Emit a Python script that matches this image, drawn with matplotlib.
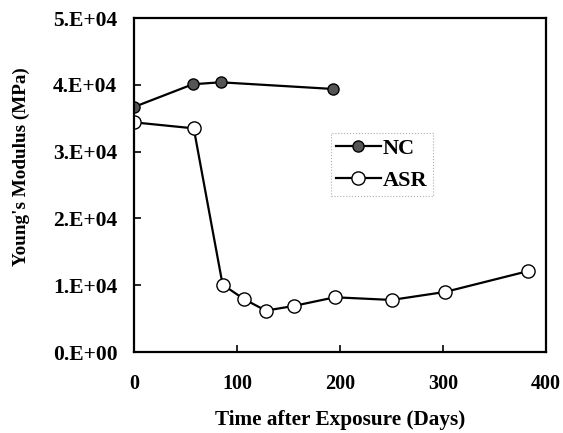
import matplotlib
matplotlib.use("Agg")
import matplotlib.pyplot as plt

# data
nc_days = [0, 57, 84, 193]
nc_modulus = [36700, 40100, 40400, 39400]

asr_days = [0, 58, 86, 107, 128, 155, 195, 250, 302, 382]
asr_modulus = [34400, 33500, 10100, 7900, 6200, 6900, 8200, 7800, 9000, 12100]

y_ticks = [0, 10000, 20000, 30000, 40000, 50000]
y_tick_labels = ["0.E+00", "1.E+04", "2.E+04", "3.E+04", "4.E+04", "5.E+04"]
x_ticks = [0, 100, 200, 300, 400]

plt.rcParams['font.family'] = ['Liberation Serif', 'DejaVu Serif']
plt.rcParams['font.weight'] = 'bold'

fig = plt.figure(figsize=(5.63, 4.33), dpi=100)
ax = fig.add_axes([0.238, 0.187, 0.732, 0.771])

ax.plot(nc_days, nc_modulus, color='black', lw=1.6, marker='o', ms=8,
        mfc='#555555', mec='black', mew=1.0, label='NC')
ax.plot(asr_days, asr_modulus, color='black', lw=1.6, marker='o', ms=9.5,
        mfc='white', mec='black', mew=1.0, label='ASR')

ax.set_xlim(0, 400)
ax.set_ylim(0, 50000)
ax.set_xticks(x_ticks)
ax.set_yticks(y_ticks)
ax.set_yticklabels(y_tick_labels)

ax.tick_params(axis='x', direction='in', length=5, width=1.2, labelsize=14.5, pad=16)
ax.tick_params(axis='y', direction='in', length=5, width=1.2, labelsize=15.5, pad=12)
for s in ax.spines.values():
    s.set_linewidth(1.6)

ax.set_xlabel('Time after Exposure (Days)', fontsize=15.3, fontweight='bold', labelpad=11)
ax.set_ylabel("Young's Modulus (MPa)", fontsize=13.8, fontweight='bold')
ax.yaxis.set_label_coords(-0.252, 0.554)

leg = ax.legend(loc='upper left', bbox_to_anchor=(0.45, 0.69), fontsize=16,
                frameon=True, fancybox=False, handlelength=2.0, handletextpad=0.1,
                labelspacing=0.5, borderpad=0.25)
frame = leg.get_frame()
frame.set_edgecolor('#999999')
frame.set_linewidth(0.8)
frame.set_linestyle(':')

fig.savefig('out.png', dpi=100)
